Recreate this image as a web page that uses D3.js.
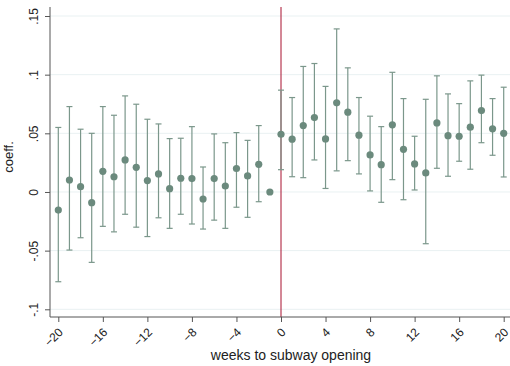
<!DOCTYPE html>
<html>
<head>
<meta charset="utf-8">
<script src="https://cdn.jsdelivr.net/npm/d3@7"></script>
<style>
  body { margin: 0; background: #fff; }
  svg { display: block; font-family: Arial, "Liberation Sans", sans-serif; }
</style>
</head>
<body>
<svg id="chart" width="510" height="366"></svg>
<script>
// event-study coefficients
var weeks = d3.range(-20, 21);
var coef = [-0.0154, 0.0102, 0.0045, -0.0091, 0.0176, 0.0130, 0.0273, 0.0210, 0.0097, 0.0154,
  0.0028, 0.0117, 0.0114, -0.0060, 0.0114, 0.0051, 0.0200, 0.0137, 0.0236, 0.0,
  0.0492, 0.0450, 0.0566, 0.0634, 0.0452, 0.0760, 0.0680, 0.0484, 0.0316, 0.0233,
  0.0572, 0.0364, 0.0239, 0.0162, 0.0589, 0.0480, 0.0475, 0.0552, 0.0694, 0.0538, 0.0500];
var ciHigh = [0.0550, 0.0728, 0.0535, 0.0500, 0.0728, 0.0654, 0.0819, 0.0748, 0.0620, 0.0580,
  0.0455, 0.0458, 0.0557, 0.0213, 0.0495, 0.0420, 0.0506, 0.0440, 0.0566, null,
  0.0868, 0.0805, 0.1070, 0.1095, 0.0900, 0.1390, 0.1058, 0.0805, 0.0646, 0.0557,
  0.1020, 0.0796, 0.0475, 0.0790, 0.0990, 0.0836, 0.0753, 0.0947, 0.0996, 0.0796, 0.0893];
var ciLow = [-0.0765, -0.0495, -0.0390, -0.0600, -0.0293, -0.0340, -0.0190, -0.0300, -0.0380, -0.0220,
  -0.0310, -0.0190, -0.0273, -0.0316, -0.0240, -0.0310, -0.0130, -0.0216, -0.0083, null,
  0.0190, 0.0130, 0.0122, 0.0273, 0.0030, 0.0180, 0.0267, 0.0154, 0.0009, -0.0088,
  0.0105, -0.0066, 0.0017, -0.0441, 0.0202, 0.0134, 0.0262, 0.0194, 0.0420, 0.0313, 0.0128];
var xTicks = d3.range(-20, 21, 4);
var yTicks = [-0.1, -0.05, 0, 0.05, 0.1, 0.15];
var yTickLabels = ["-.1", "-.05", "0", ".05", ".1", ".15"];

var data = weeks.map(function (w, i) {
  return { week: w, coef: coef[i], hi: ciHigh[i], lo: ciLow[i] };
});

var svg = d3.select("#chart");
var markColor = "#6b8a7d", barColor = "#7b978b";

var x = d3.scaleLinear().domain([-20, 20]).range([58.3, 503.7]);
var y = d3.scaleLinear().domain([-0.1, 0.15]).range([309.3, 16]);

var plotTop = 7, plotBottom = 317, plotLeft = 50, plotRight = 510;

// gridlines
svg.append("g")
  .selectAll("line")
  .data(yTicks)
  .enter()
  .append("line")
  .attr("x1", plotLeft).attr("x2", plotRight)
  .attr("y1", function (d) { return y(d); })
  .attr("y2", function (d) { return y(d); })
  .attr("stroke", "#e9f1f2")
  .attr("stroke-width", 1);

// reference line at opening
svg.append("line")
  .attr("x1", x(0)).attr("x2", x(0))
  .attr("y1", plotTop).attr("y2", plotBottom)
  .attr("stroke", "#a8102e")
  .attr("stroke-width", 1);

// confidence intervals
var ci = svg.append("g")
  .selectAll("g")
  .data(data.filter(function (d) { return d.hi !== null; }))
  .enter()
  .append("g")
  .attr("stroke", barColor)
  .attr("stroke-width", 1.2);

ci.append("line")
  .attr("x1", function (d) { return x(d.week); })
  .attr("x2", function (d) { return x(d.week); })
  .attr("y1", function (d) { return y(d.hi); })
  .attr("y2", function (d) { return y(d.lo); });

ci.append("line")
  .attr("x1", function (d) { return x(d.week) - 3; })
  .attr("x2", function (d) { return x(d.week) + 3; })
  .attr("y1", function (d) { return y(d.hi); })
  .attr("y2", function (d) { return y(d.hi); });

ci.append("line")
  .attr("x1", function (d) { return x(d.week) - 3; })
  .attr("x2", function (d) { return x(d.week) + 3; })
  .attr("y1", function (d) { return y(d.lo); })
  .attr("y2", function (d) { return y(d.lo); });

// point estimates
svg.append("g")
  .selectAll("circle")
  .data(data)
  .enter()
  .append("circle")
  .attr("cx", function (d) { return x(d.week); })
  .attr("cy", function (d) { return y(d.coef); })
  .attr("r", 3.6)
  .attr("fill", markColor);

// y axis
var yAxis = svg.append("g")
  .attr("transform", "translate(" + plotLeft + ",0)")
  .call(d3.axisLeft(y).tickValues(yTicks).tickSize(5).tickPadding(3)
    .tickFormat(function (d, i) { return yTickLabels[i]; }));
yAxis.select(".domain").attr("d", "M0," + plotTop + "V" + plotBottom).attr("stroke", "#555");
yAxis.selectAll(".tick line").attr("stroke", "#555");
yAxis.selectAll(".tick text")
  .attr("font-size", 12)
  .attr("fill", "#222")
  .attr("text-anchor", "middle")
  .attr("transform", "rotate(-90)")
  .attr("x", 0)
  .attr("dy", 0)
  .attr("y", -12);

// x axis
var xAxis = svg.append("g")
  .attr("transform", "translate(0," + plotBottom + ")")
  .call(d3.axisBottom(x).tickValues(xTicks).tickSize(5).tickPadding(3));
xAxis.select(".domain").attr("d", "M" + plotLeft + ",0H" + plotRight).attr("stroke", "#555");
xAxis.selectAll(".tick line").attr("stroke", "#555");
xAxis.selectAll(".tick text")
  .attr("font-size", 12)
  .attr("fill", "#222")
  .attr("text-anchor", "end")
  .attr("dy", "0.35em")
  .attr("y", 0)
  .attr("transform", "translate(2,13) rotate(-45)");

// axis titles
svg.append("text")
  .attr("x", 291).attr("y", 360)
  .attr("text-anchor", "middle")
  .attr("font-size", 14)
  .attr("fill", "#222")
  .text("weeks to subway opening");

svg.append("text")
  .attr("transform", "translate(13,157) rotate(-90)")
  .attr("text-anchor", "middle")
  .attr("font-size", 13)
  .attr("fill", "#222")
  .text("coeff.");
</script>
</body>
</html>
